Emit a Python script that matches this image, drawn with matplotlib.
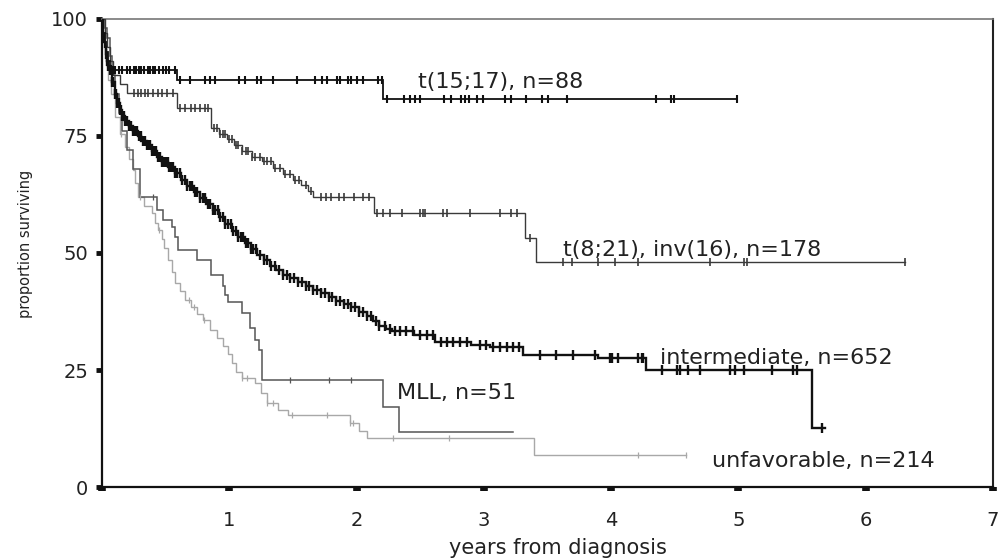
import numpy as np
import matplotlib
matplotlib.use("Agg")
import matplotlib.pyplot as plt

# ---------------- data ----------------
labels = ["t(15;17), n=88", "t(8;21), inv(16), n=178", "intermediate, n=652",
          "MLL, n=51", "unfavorable, n=214"]

# t(15;17)
apl_t = [0, 0.01, 0.02, 0.03, 0.045, 0.06, 0.59, 2.21]
apl_s = [100, 97, 95, 93, 91, 89, 87, 83]
apl_end = 4.99
apl_cens = [0.07, 0.09, 0.1, 0.13, 0.16, 0.2, 0.22, 0.25, 0.27, 0.29, 0.31, 0.33, 0.36,
            0.38, 0.4, 0.42, 0.45, 0.48, 0.5, 0.53, 0.57, 0.61, 0.69, 0.81, 0.85, 0.89,
            1.08, 1.12, 1.22, 1.25, 1.34, 1.53, 1.67, 1.73, 1.77, 1.85, 1.87, 1.93, 1.96,
            2.0, 2.05, 2.17, 2.2, 2.24, 2.37, 2.42, 2.46, 2.5, 2.69, 2.74, 2.82, 2.85,
            2.88, 2.95, 2.99, 3.17, 3.21, 3.33, 3.46, 3.5, 3.65, 4.35, 4.47, 4.49, 4.99]

# t(8;21), inv(16)
cbf_t = [0, 0.02, 0.04, 0.06, 0.09, 0.14, 0.2, 0.59, 0.86, 0.92, 0.98, 1.04, 1.1, 1.18,
         1.26, 1.34, 1.42, 1.5, 1.56, 1.62, 1.66, 2.14, 3.32, 3.41]
cbf_s = [100, 97, 94, 91, 88, 86, 84.2, 81, 76.7, 75.5, 74.3, 73, 71.8, 70.6,
         69.6, 68.2, 66.8, 65.6, 64.6, 63.2, 62, 58.5, 53.2, 48]
cbf_end = 6.31
cbf_cens = [0.25, 0.28, 0.31, 0.34, 0.36, 0.4, 0.44, 0.47, 0.51, 0.56, 0.61, 0.65, 0.7,
            0.73, 0.77, 0.81, 0.83, 0.88, 0.9, 0.93, 0.95, 0.97, 1.0, 1.02, 1.05, 1.07,
            1.1, 1.13, 1.15, 1.18, 1.2, 1.24, 1.27, 1.3, 1.33, 1.36, 1.4, 1.44, 1.48,
            1.52, 1.55, 1.6, 1.64, 1.72, 1.76, 1.8, 1.86, 1.9, 1.98, 2.05, 2.1, 2.16,
            2.21, 2.26, 2.36, 2.5, 2.52, 2.54, 2.68, 2.71, 2.89, 3.13, 3.21, 3.26, 3.36,
            3.62, 3.69, 3.9, 4.03, 4.21, 4.78, 5.04, 5.07, 6.31]

# intermediate
int_t = [0, 0.005, 0.01, 0.015, 0.02, 0.03, 0.04, 0.05, 0.06, 0.08, 0.1, 0.12, 0.14,
         0.16, 0.18, 0.21, 0.24, 0.28, 0.31, 0.35, 0.39, 0.43, 0.47, 0.52, 0.57, 0.62,
         0.67, 0.72, 0.77, 0.82, 0.87, 0.92, 0.97, 1.02, 1.07, 1.12, 1.17, 1.22, 1.27,
         1.32, 1.37, 1.42, 1.48, 1.54, 1.6, 1.66, 1.72, 1.78, 1.84, 1.9, 1.96, 2.02,
         2.08, 2.13, 2.18, 2.23, 2.28, 2.45, 2.62, 2.9, 3.05, 3.31, 3.9, 4.27, 5.58]
int_s = [100, 98, 96.5, 95, 94, 92.5, 91, 90, 89, 86.5, 84, 82, 80.5,
         79.3, 78.3, 77.2, 76, 75, 74, 73, 71.8, 70.6, 69.5, 68.3, 67, 65.7,
         64.4, 63.1, 61.8, 60.5, 59.1, 57.7, 56.3, 54.8, 53.5, 52.1, 50.8, 49.6, 48.4,
         47.3, 46.3, 45.4, 44.6, 43.8, 43, 42.2, 41.4, 40.6, 39.8, 39.1, 38.4, 37.5,
         36.5, 35.4, 34.5, 33.8, 33.3, 32.5, 31, 30.3, 29.9, 28.2, 27.6, 25.0, 12.6]
int_end = 5.68
int_cens = [0.03, 0.04, 0.05, 0.06, 0.07, 0.08, 0.09, 0.1, 0.11, 0.12, 0.13, 0.14, 0.15,
            0.16, 0.17, 0.18, 0.19, 0.2, 0.21, 0.22, 0.23, 0.245, 0.26, 0.275, 0.29,
            0.305, 0.32, 0.335, 0.35, 0.365, 0.38, 0.395, 0.41, 0.425, 0.44, 0.455, 0.47,
            0.485, 0.5, 0.515, 0.53, 0.545, 0.56, 0.575, 0.59, 0.61, 0.63, 0.65, 0.67,
            0.69, 0.71, 0.73, 0.75, 0.77, 0.79, 0.81, 0.83, 0.85, 0.87, 0.89, 0.91, 0.93,
            0.95, 0.97, 0.99, 1.01, 1.03, 1.05, 1.07, 1.09, 1.11, 1.13, 1.15, 1.17, 1.19,
            1.21, 1.24, 1.27, 1.3, 1.33, 1.36, 1.39, 1.42, 1.45, 1.48, 1.51, 1.54, 1.57,
            1.6, 1.63, 1.66, 1.69, 1.72, 1.75, 1.78, 1.81, 1.84, 1.87, 1.9, 1.93, 1.96,
            1.99, 2.02, 2.05, 2.08, 2.11, 2.15, 2.18, 2.22, 2.26, 2.3, 2.34, 2.39, 2.44,
            2.5, 2.55, 2.6, 2.66, 2.71, 2.76, 2.81, 2.87, 2.97, 3.02, 3.07, 3.13, 3.18,
            3.23, 3.28, 3.44, 3.57, 3.7, 3.87, 3.99, 4.01, 4.05, 4.21, 4.24, 4.25, 4.4,
            4.52, 4.54, 4.6, 4.7, 4.93, 4.97, 5.04, 5.26, 5.43, 5.46, 5.66]

# MLL
mll_t = [0, 0.02, 0.04, 0.06, 0.08, 0.1, 0.13, 0.16, 0.2, 0.24, 0.3, 0.43, 0.48, 0.55,
         0.57, 0.6, 0.75, 0.86, 0.95, 0.97, 0.99, 1.1, 1.16, 1.2, 1.23, 1.26, 2.21, 2.33]
mll_s = [100, 98, 96, 92, 88, 84, 80, 76, 72, 68, 62, 59.2, 57, 55.6,
         53.4, 50.6, 48.5, 45.3, 43, 41, 39.5, 37.2, 34, 31.4, 29.3, 22.9, 17.1, 11.8]
mll_end = 3.23
mll_cens = [0.4, 1.48, 1.78, 1.96]

# unfavorable
unf_t = [0, 0.01, 0.02, 0.03, 0.05, 0.07, 0.1, 0.14, 0.18, 0.21, 0.24, 0.26, 0.28, 0.33,
         0.39, 0.42, 0.44, 0.47, 0.49, 0.52, 0.55, 0.57, 0.61, 0.65, 0.7, 0.75, 0.79,
         0.85, 0.9, 0.95, 0.99, 1.02, 1.05, 1.1, 1.2, 1.25, 1.3, 1.38, 1.46, 1.95, 2.02,
         2.08, 3.39]
unf_s = [100, 97, 94, 91, 87, 84, 79, 75.5, 72.6, 70, 67.7, 65, 62, 60,
         58.5, 56.5, 55, 53, 51, 48.5, 46, 43.6, 41.8, 40, 38.5, 37, 35.7,
         33.5, 31.8, 30.2, 28.5, 26.5, 24.5, 23.3, 22.2, 20, 18, 16.5, 15.4, 13.7, 12,
         10.5, 6.8]
unf_end = 4.59
unf_cens = [0.15, 0.3, 0.45, 0.68, 0.72, 0.8, 1.1, 1.14, 1.3, 1.34, 1.49, 1.77, 1.95,
            1.97, 2.29, 2.73, 4.21, 4.59]

x_ticks = [0, 1, 2, 3, 4, 5, 6, 7]
x_ticklabels = ["", "1", "2", "3", "4", "5", "6", "7"]
y_ticks = [0, 25, 50, 75, 100]

# ---------------- plotting ----------------
plt.rcParams["font.family"] = ["DejaVu Sans"]
fig = plt.figure(figsize=(9.98, 5.58), dpi=100)
ax = fig.add_axes([0.1022, 0.1272, 0.8928, 0.8388])


def km(t, s, end, cens, color, lw, ms, mew):
    t = np.asarray(t, float)
    s = np.asarray(s, float)
    ax.step(np.r_[t, end], np.r_[s, s[-1]], where="post", color=color, lw=lw,
            solid_joinstyle="miter", zorder=3)
    c = np.asarray(cens, float)
    cy = s[np.searchsorted(t, c, side="right") - 1]
    ax.plot(c, cy, linestyle="none", marker="|", ms=ms, mew=mew, color=color,
            zorder=4)


km(unf_t, unf_s, unf_end, unf_cens, "#a8a8a8", 1.0, 5, 0.9)
km(mll_t, mll_s, mll_end, mll_cens, "#555555", 1.1, 5, 0.9)
km(cbf_t, cbf_s, cbf_end, cbf_cens, "#3a3a3a", 1.0, 6, 1.2)
km(int_t, int_s, int_end, int_cens, "#111111", 1.7, 7, 1.7)
km(apl_t, apl_s, apl_end, apl_cens, "#111111", 1.3, 6, 1.5)

txt = dict(fontsize=16, color="#222222", va="center", ha="left", zorder=5)
ax.text(2.48, 86.6, labels[0], **txt)
ax.text(3.62, 50.6, labels[1], **txt)
ax.text(4.38, 27.6, labels[2], **txt)
ax.text(2.32, 20.1, labels[3], **txt)
ax.text(4.79, 5.6, labels[4], **txt)

ax.set_xlim(0, 7)
ax.set_ylim(0, 100)
ax.set_xticks(x_ticks)
ax.set_xticklabels(x_ticklabels)
ax.set_yticks(y_ticks)
ax.tick_params(axis="x", direction="out", length=3, width=5.5, pad=14,
               labelsize=14, colors="#111111", labelcolor="#222222")
ax.tick_params(axis="y", direction="out", length=4, width=3.5, pad=6,
               labelsize=14, colors="#111111", labelcolor="#222222")

for side in ("left", "bottom"):
    ax.spines[side].set_linewidth(1.6)
    ax.spines[side].set_color("#111111")
ax.spines["top"].set_linewidth(1.2)
ax.spines["top"].set_color("#777777")
ax.spines["right"].set_linewidth(1.5)
ax.spines["right"].set_color("#222222")

ax.set_xlabel("years from diagnosis", fontsize=15, color="#222222")
ax.xaxis.set_label_coords(0.512, -0.108)
ax.set_ylabel("proportion surviving", fontsize=10.5, color="#222222")
ax.yaxis.set_label_coords(-0.077, 0.519)

fig.savefig("out.png", dpi=100)
